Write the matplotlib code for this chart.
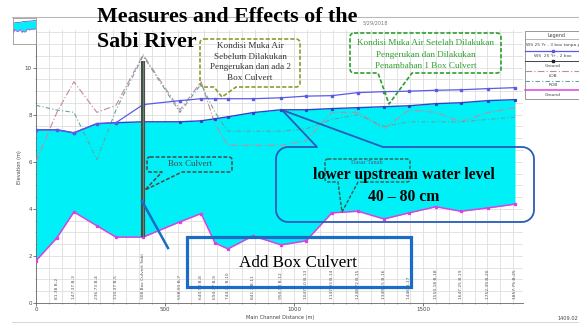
import numpy as np
import matplotlib
matplotlib.use('Agg')
import matplotlib.pyplot as plt
from matplotlib.patches import Polygon, Rectangle
from matplotlib.lines import Line2D

# ---------------- data ----------------
stations = [0, 81, 147, 236, 310, 415, 558, 640, 694, 744, 841, 950, 1047,
            1147, 1248, 1349, 1446, 1550, 1647, 1752, 1857]
ws_3box = [7.36, 7.36, 7.23, 7.62, 7.66, 7.70, 7.70, 7.74, 7.83, 7.91, 8.09,
           8.21, 8.21, 8.26, 8.30, 8.34, 8.38, 8.47, 8.51, 8.60, 8.64]
ws_2box = [7.36, 7.36, 7.23, 7.62, 7.66, 8.43, 8.60, 8.68, 8.68, 8.68, 8.68,
           8.72, 8.79, 8.81, 8.94, 8.98, 9.00, 9.04, 9.06, 9.11, 9.15]
ground = [1.80, 2.77, 3.87, 3.28, 2.80, 2.80, 3.45, 3.80, 2.55, 2.30, 2.85,
          2.47, 2.64, 3.83, 3.90, 3.57, 3.83, 4.09, 3.90, 4.04, 4.20]
lob = [6.0, 8.1, 9.4, 8.1, 8.4, 10.55, 8.2, 9.4, 7.6, 6.7, 6.7, 6.7, 6.9,
       8.1, 8.1, 7.4, 8.2, 8.1, 7.7, 8.1, 8.3]
rob = [8.4, 8.2, 8.1, 6.1, 8.2, 10.5, 8.1, 9.3, 8.1, 7.3, 7.3, 7.3, 7.4,
       7.8, 8.0, 7.5, 7.7, 7.7, 7.7, 7.8, 7.9]
station_labels = ["81.38 B-2", "147.37 B-3", "236.73 B-4", "310.37 B-5",
                  "308 Box Culvert Sabi", "558.91 B-7", "640.98 B-8",
                  "694.77 B-9", "744.71 B-10", "841.7 B-11", "950.93 B-12",
                  "1047.10 B-13", "1147.93 B-14", "1248.72 B-15",
                  "1349.15 B-16", "1446 B-17", "1550.18 B-18",
                  "1647.25 B-19", "1752.39 B-20", "1857.75 B-25"]
culvert_station = 415
culvert_top = 10.3
culvert_bottom = 2.8
x_ticks = [0, 500, 1000, 1500]
y_ticks = [0, 2, 4, 6, 8, 10]

W, H = 579, 324
fig = plt.figure(figsize=(W / 100, H / 100), dpi=100)
fig.patch.set_facecolor('white')


def P(x, y):
    return (x / W, 1 - y / H)


SERIF = ['Liberation Serif', 'DejaVu Serif']

# ---------------- main axes ----------------
ax = fig.add_axes([36 / W, 1 - 303 / H, (523 - 36) / W, (303 - 30) / H])
ax.set_xlim(0, 1888)
ax.set_ylim(0, 11.6)
ax.set_xticks(x_ticks)
ax.set_yticks(y_ticks)
ax.set_xticks(np.arange(0, 1888, 50), minor=True)
ax.set_yticks(np.arange(0, 11.6, 0.5), minor=True)
ax.grid(True, which='both', color='#dedede', lw=0.6)
ax.set_axisbelow(True)
ax.tick_params(labelsize=4, length=2, width=0.5, pad=1, colors='#444')
ax.tick_params(which='minor', length=1, width=0.4, colors='#777')
for s in ['top', 'right']:
    ax.spines[s].set_visible(False)
for s in ['left', 'bottom']:
    ax.spines[s].set_color('#666')
    ax.spines[s].set_linewidth(0.6)

ax.fill_between(stations, ground, ws_3box, color='#00f0f8', lw=0, zorder=2)
ax.plot(stations, lob, color='#c8889c', lw=0.8, ls=(0, (6, 2, 1, 2)), zorder=3)
ax.plot(stations, rob, color='#62a4a4', lw=0.8, ls=(0, (4, 2, 1, 2)), zorder=3)
ax.plot(stations, ws_3box, color='#2846c8', lw=1.0, marker='s', ms=1.3, zorder=4)
ax.plot(stations, ws_2box, color='#5a5ae8', lw=0.9, marker='s', ms=1.6, zorder=4)
ax.plot(stations, ground, color='#e040e0', lw=1.1, marker='s', ms=1.4, zorder=4)
ax.plot([culvert_station] * 2, [culvert_bottom, culvert_top], color='#4a4a4a',
        lw=3.0, zorder=5, solid_capstyle='butt')
ax.plot([culvert_station] * 2, [culvert_bottom, culvert_top], color='#5e8a6e',
        lw=0.8, zorder=6, solid_capstyle='butt')

for st, lab in zip(stations[1:], station_labels):
    ax.text(st, 0.15, lab, rotation=90, fontsize=3.2, color='#555',
            ha='center', va='bottom', zorder=3)

fig.text(*P(20, 167), 'Elevation (m)', rotation=90, fontsize=3.6, color='#444',
         ha='center', va='center')
fig.text(*P(280, 318), 'Main Channel Distance (m)', fontsize=3.6, color='#444',
         ha='center', va='center')
fig.text(*P(557, 318), '1409.02', fontsize=3.6, color='#444',
         ha='left', va='center')

# frame lines
fig.add_artist(Line2D([12 / W, 1], [1 - 17 / H] * 2, color='#b8b8b8', lw=0.8))
fig.add_artist(Line2D([12 / W, 1], [1 - 322 / H] * 2, color='#d0d0d0', lw=0.6))
fig.text(*P(363, 23), '5/29/2018', fontsize=3.6, color='#777', ha='left', va='center')

# thumbnail
tax = fig.add_axes([13 / W, 1 - 44 / H, 23 / W, 26 / H])
tax.fill_between(stations, ground, ws_3box, color='#00f0f8', lw=0)
tax.plot(stations, ws_3box, color='#2846c8', lw=0.5)
tax.plot(stations, ground, color='#e040e0', lw=0.6)
tax.set_xlim(0, 1888)
tax.set_ylim(-4, 10)
tax.set_xticks([])
tax.set_yticks([])
for s in tax.spines.values():
    s.set_color('#999')
    s.set_linewidth(0.6)

# ---------------- legend ----------------
fig.add_artist(Rectangle(P(525, 99), 60 / W, 68 / H, transform=fig.transFigure,
                         fc='white', ec='#888', lw=0.6))
fig.add_artist(Line2D([525 / W, 1], [1 - 39 / H] * 2, color='#999', lw=0.5))
fig.text(*P(557, 35), 'Legend', fontsize=3.5, color='#444', ha='center', va='center')
leg_items = [
    (45, 'WS 25 Yr - 3 box tanpa p', 'left'),
    (56, 'WS  25 Yr - 2 box', 'center'),
    (66, 'Ground', 'center'),
    (76, 'LOB', 'center'),
    (85, 'ROB', 'center'),
    (95, 'Ground', 'center'),
]
for py, lab, ha in leg_items:
    x = 526 if ha == 'left' else 553
    fig.text(*P(x, py), lab, fontsize=3.2, color='#444', ha=ha, va='center')
fig.add_artist(Line2D([525 / W, 1], [1 - 50.5 / H] * 2, color='#5a5ae8', lw=0.9))
fig.add_artist(Line2D([553 / W], [1 - 50.5 / H], color='#5a5ae8', marker='s', ms=1.6))
fig.add_artist(Line2D([525 / W, 1], [1 - 61 / H] * 2, color='#222', lw=0.6))
fig.add_artist(Line2D([553 / W], [1 - 61 / H], color='#222', marker='s', ms=1.6))
fig.add_artist(Line2D([525 / W, 1], [1 - 71 / H] * 2, color='#c8889c', lw=0.8,
                      ls=(0, (6, 2, 1, 2))))
fig.add_artist(Line2D([525 / W, 1], [1 - 80.5 / H] * 2, color='#62a4a4', lw=0.8,
                      ls=(0, (4, 2, 1, 2))))
fig.add_artist(Line2D([525 / W, 1], [1 - 90 / H] * 2, color='#e040e0', lw=1.1))


# ---------------- callouts ----------------
def arc(cx, cy, r, a0, a1, n=8):
    t = np.radians(np.linspace(a0, a1, n))
    return list(zip(cx + r * np.cos(t), cy + r * np.sin(t)))


def callout(x0, y0, x1, y1, r, base, tip, side='bottom'):
    a, b = base
    pts = [(x0 + r, y0)]
    if side == 'top':
        pts += [(a, y0), tip, (b, y0)]
    pts += [(x1 - r, y0)]
    pts += arc(x1 - r, y0 + r, r, -90, 0)
    pts += arc(x1 - r, y1 - r, r, 0, 90)
    if side == 'bottom':
        pts += [(b, y1), tip, (a, y1)]
    pts += arc(x0 + r, y1 - r, r, 90, 180)
    pts += arc(x0 + r, y0 + r, r, 180, 270)
    return [P(x, y) for x, y in pts]


def add_callout(pts, color, lw, ls):
    fig.add_artist(Polygon(pts, closed=True, fill=False, ec=color, lw=lw, ls=ls,
                           transform=fig.transFigure, joinstyle='round'))


dash = (0, (2.5, 1.2))
# olive callout
add_callout(callout(200, 39, 300, 87, 4, (214, 236), (222, 97)), '#8c9c30', 1.2, dash)
for py, t in zip([46, 57, 67, 78], ['Kondisi Muka Air', 'Sebelum Dilakukan',
                                     'Pengerukan dan ada 2', 'Box Culvert']):
    fig.text(*P(250, py), t, fontsize=6.6, family=SERIF, color='#333',
             ha='center', va='center')

# green callout
add_callout(callout(350, 33, 501, 73, 4, (378, 412), (389, 104)), '#2ca02c', 1.2, dash)
for py, t in zip([43, 55, 66], ['Kondisi Muka Air Setelah Dilakukan',
                                 'Pengerukan dan Dilakukan',
                                 'Penambahan 1 Box Culvert']):
    fig.text(*P(426, py), t, fontsize=6.6, family=SERIF, color='#2ca02c',
             ha='center', va='center')

# box culvert callout
add_callout(callout(147, 157, 232, 172, 3, (162, 182), (145, 190)), '#4a4a4a', 1.1, dash)
fig.text(*P(190, 164.5), 'Box Culvert', fontsize=6.4, family=SERIF, color='#444',
         ha='center', va='center')

# dasar tanah callout
add_callout(callout(325, 159, 410, 182, 3, (338, 358), (342, 212)), '#3a5a4a', 1.0, dash)
fig.text(*P(367, 163), 'Dasar Tanah', fontsize=4.5, family=SERIF, color='#557',
         ha='center', va='center')

# big blue rounded callout
add_callout(callout(276, 147, 534, 222, 12, (317, 383), (282, 110), side='top'),
            '#2a5cb8', 1.3, 'solid')
fig.text(*P(404, 175), 'lower upstream water level', fontsize=11.3, family=SERIF,
         fontweight='bold', color='black', ha='center', va='center')
fig.text(*P(404, 197), '40 \u2013 80 cm', fontsize=11.3, family=SERIF,
         fontweight='bold', color='black', ha='center', va='center')

# add box culvert rectangle
fig.add_artist(Rectangle(P(187, 287), (411 - 187) / W, 50 / H, transform=fig.transFigure,
                         fill=False, ec='#1a6cc4', lw=2.3))
fig.add_artist(Line2D([142 / W, 168 / W], [1 - 201 / H, 1 - 248 / H], color='#1a6cc4',
                      lw=1.8))
fig.text(*P(298, 263), 'Add Box Culvert', fontsize=12.3, family=SERIF, color='black',
         ha='center', va='center')

# title
fig.text(*P(97, 17), 'Measures and Effects of the', fontsize=15.8, family=SERIF,
         fontweight='bold', color='black', ha='left', va='center')
fig.text(*P(97, 42), 'Sabi River', fontsize=15.8, family=SERIF,
         fontweight='bold', color='black', ha='left', va='center')

fig.savefig('out.png', dpi=100, facecolor='white')
